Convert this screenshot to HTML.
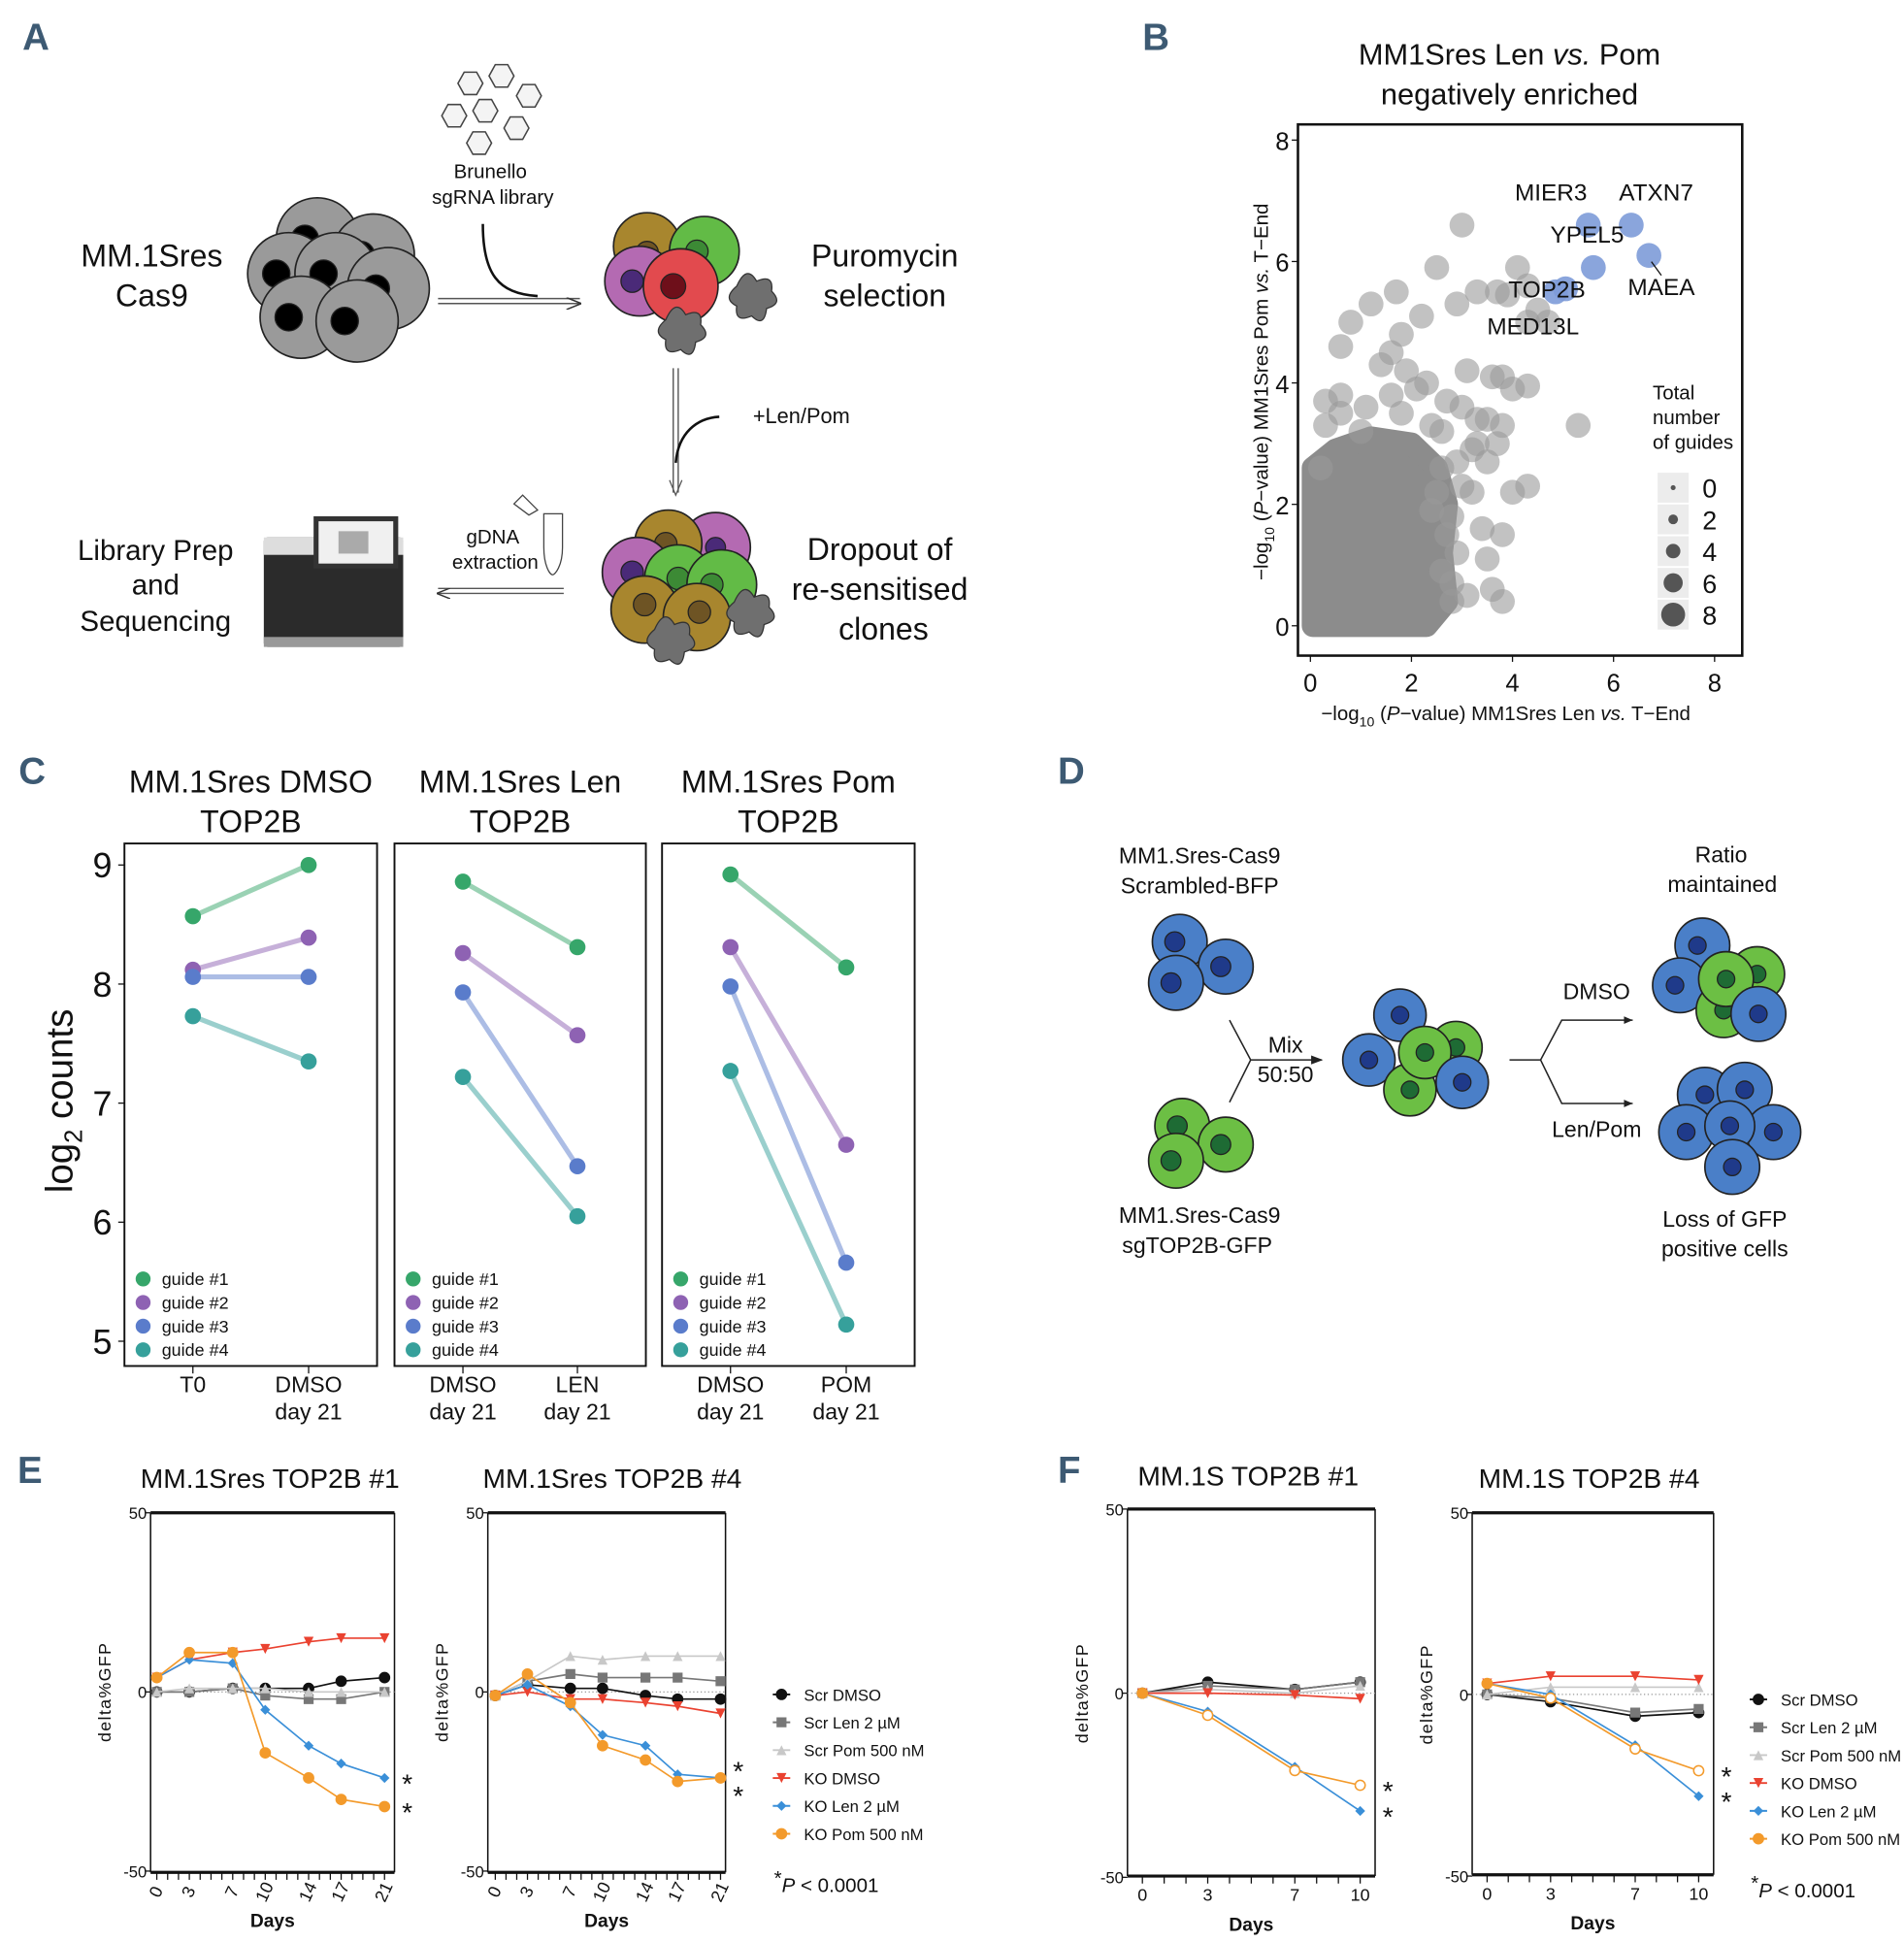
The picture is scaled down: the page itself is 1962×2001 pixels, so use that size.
<!DOCTYPE html>
<html><head><meta charset="utf-8"><style>
html,body{margin:0;padding:0;background:#fff}
svg{display:block}
text{font-family:"Liberation Sans Narrow","Liberation Sans",sans-serif;fill:#111}
.lt{font-family:"Liberation Sans Narrow","Liberation Sans",sans-serif;font-weight:bold;fill:#3d5a73;font-size:30px}
.ar{font-family:"Liberation Sans",sans-serif}
</style></head><body>
<svg id="fig" width="1962" height="2001" viewBox="0 0 1530 1561" preserveAspectRatio="none" xmlns="http://www.w3.org/2000/svg">
<defs>
<marker id="ah" markerWidth="10" markerHeight="8" refX="9" refY="4" orient="auto"><path d="M0,0 L10,4 L0,8" fill="none" stroke="#333" stroke-width="1"/></marker>
<marker id="ahs" markerWidth="8" markerHeight="6" refX="7" refY="3" orient="auto"><path d="M0,0 L8,3 L0,6 Z" fill="#222"/></marker>
</defs>
<g>
<text class="lt" x="18" y="40">A</text>
<g fill="#f4f4f4" stroke="#444" stroke-width="1.2">
<polygon points="373,58 383,58 388,67 383,76 373,76 368,67"/><polygon points="398,52 408,52 413,61 408,70 398,70 393,61"/>
<polygon points="420,68 430,68 435,77 430,86 420,86 415,77"/><polygon points="385,80 395,80 400,89 395,98 385,98 380,89"/>
<polygon points="360,84 370,84 375,93 370,102 360,102 355,93"/><polygon points="410,94 420,94 425,103 420,112 410,112 405,103"/>
<polygon points="380,106 390,106 395,115 390,124 380,124 375,115"/>
</g>
<text class="ar" x="394" y="143" text-anchor="middle" font-size="16">Brunello</text>
<text class="ar" x="396" y="164" text-anchor="middle" font-size="16">sgRNA library</text>
<path d="M388,180 C388,220 400,236 432,238" fill="none" stroke="#111" stroke-width="2"/>
<text class="ar" x="122" y="214" text-anchor="middle" font-size="25">MM.1Sres</text>
<text class="ar" x="122" y="246" text-anchor="middle" font-size="25">Cas9</text>
<g id="grayCells"></g>
<path d="M352,240 L466,240 M352,244 L466,244" stroke="#555" stroke-width="1.2" marker-end="url(#ah)"/>
<g id="colCells1"></g>
<text class="ar" x="711" y="214" text-anchor="middle" font-size="25">Puromycin</text>
<text class="ar" x="711" y="246" text-anchor="middle" font-size="25">selection</text>
<path d="M541,296 L541,396 M545,296 L545,396" stroke="#555" stroke-width="1.1"/>
<path d="M538,386 L543,398 L548,386" fill="none" stroke="#555"/>
<path d="M543,372 C545,348 560,336 578,335" fill="none" stroke="#111" stroke-width="2"/>
<text class="ar" x="605" y="340" font-size="17">+Len/Pom</text>
<g id="colCells2"></g>
<text class="ar" x="707" y="450" text-anchor="middle" font-size="25">Dropout of</text>
<text class="ar" x="707" y="482" text-anchor="middle" font-size="25">re-sensitised</text>
<text class="ar" x="710" y="514" text-anchor="middle" font-size="25">clones</text>
<path d="M453,473 L352,473 M453,477 L352,477" stroke="#555" stroke-width="1.1" marker-end="url(#ah)"/>
<text class="ar" x="396" y="437" text-anchor="middle" font-size="16">gDNA</text>
<text class="ar" x="398" y="457" text-anchor="middle" font-size="16">extraction</text>
<path d="M437,413 L452,413 L452,440 C452,455 446,462 444,462 C442,462 437,455 437,440 Z" fill="#fff" stroke="#444"/>
<path d="M413,405 L420,398 L432,410 L425,414 Z" fill="#fff" stroke="#444"/>
<g>
<rect x="212" y="432" width="112" height="88" fill="#2b2b2b" rx="3"/>
<rect x="212" y="432" width="112" height="14" fill="#ddd"/>
<rect x="252" y="415" width="68" height="42" fill="#333"/>
<rect x="256" y="419" width="60" height="34" fill="#f0f0f0"/>
<rect x="272" y="427" width="24" height="18" fill="#aaa"/>
<rect x="212" y="512" width="112" height="8" fill="#999"/>
</g>
<text class="ar" x="125" y="450" text-anchor="middle" font-size="23">Library Prep</text>
<text class="ar" x="125" y="478" text-anchor="middle" font-size="23">and</text>
<text class="ar" x="125" y="507" text-anchor="middle" font-size="23">Sequencing</text>
</g>
<g>
<text class="lt" x="918" y="40">B</text>
<text class="ar" x="1213" y="52" text-anchor="middle" font-size="24">MM1Sres Len <tspan font-style="italic">vs.</tspan> Pom</text>
<text class="ar" x="1213" y="84" text-anchor="middle" font-size="24">negatively enriched</text>
<g id="scatter"></g>
</g>
<g>
<text class="lt" x="15" y="630">C</text>
<g id="panelC"></g>
</g>
<g>
<text class="lt" x="850" y="630">D</text>
<text class="ar" x="964" y="694" text-anchor="middle" font-size="18">MM1.Sres-Cas9</text>
<text class="ar" x="964" y="718" text-anchor="middle" font-size="18">Scrambled-BFP</text>
<text class="ar" x="964" y="983" text-anchor="middle" font-size="18">MM1.Sres-Cas9</text>
<text class="ar" x="962" y="1007" text-anchor="middle" font-size="18">sgTOP2B-GFP</text>
<g id="dCells"></g>
<path d="M988,820 L1005,852 L988,886 M1005,852 L1062,852" fill="none" stroke="#222" stroke-width="1.2" marker-end="url(#ahs)"/>
<text class="ar" x="1033" y="846" text-anchor="middle" font-size="18">Mix</text>
<text class="ar" x="1033" y="870" text-anchor="middle" font-size="18">50:50</text>
<path d="M1213,852 L1238,852 L1255,820 L1312,820 M1238,852 L1255,887 L1312,887" fill="none" stroke="#222" stroke-width="1.2"/>
<path d="M1305,817 L1312,820 L1305,823 Z M1305,884 L1312,887 L1305,890 Z" fill="#222"/>
<text class="ar" x="1283" y="803" text-anchor="middle" font-size="18">DMSO</text>
<text class="ar" x="1283" y="914" text-anchor="middle" font-size="18">Len/Pom</text>
<text class="ar" x="1383" y="693" text-anchor="middle" font-size="18">Ratio</text>
<text class="ar" x="1384" y="717" text-anchor="middle" font-size="18">maintained</text>
<text class="ar" x="1386" y="986" text-anchor="middle" font-size="18">Loss of GFP</text>
<text class="ar" x="1386" y="1010" text-anchor="middle" font-size="18">positive cells</text>
</g>
<text class="lt" x="14" y="1192">E</text>
<text class="lt" x="850" y="1192">F</text>
<g id="panelEF"></g>
</svg>
<script>
// ===== Panel B data =====
const bGrayX=[3.0,4.1,3.3,2.5,4.3,3.7,3.9,4.5,4.3,4.7,2.9,2.2,0.8,1.7,1.2,1.8,0.6,1.6,1.4,1.9,2.3,3.1,3.6,3.8,4.0,4.3,2.1,0.6,0.3,1.1,2.7,3.0,3.3,3.5,3.8,2.6,3.3,3.7,5.3,4.3,4.0,3.2,3.4,3.5,3.1,3.6,3.8,2.8,0.6,0.3,1.0,1.8,2.9,2.8,2.9,0.2,3.8,2.4,1.6,2.6,3.2,3.5,2.5,2.7,2.6,2.8,2.4,3.0];
const bGrayY=[6.6,5.9,5.5,5.9,5.6,5.5,5.45,5.2,5.0,5.0,5.3,5.1,5.0,5.5,5.3,4.8,4.6,4.5,4.3,4.2,4.0,4.2,4.1,4.1,3.9,3.95,3.9,3.8,3.7,3.6,3.7,3.6,3.4,3.4,3.3,3.2,3.0,3.0,3.3,2.3,2.2,2.2,1.6,1.1,0.5,0.6,0.4,0.4,3.5,3.3,3.2,3.5,2.7,1.8,1.2,2.6,1.5,3.3,3.8,2.6,2.9,2.7,2.2,1.5,0.9,0.7,1.9,2.3];
const bBlueX=[5.5,6.35,5.6,6.7,5.05,4.85];
const bBlueY=[6.6,6.6,5.9,6.1,5.55,5.5];
const bGenes=["MIER3","ATXN7","YPEL5","MAEA","TOP2B","MED13L"];
const bTicks=[0,2,4,6,8];
const bLegend=[0,2,4,6,8];
// ===== Panel C data =====
const cTitles=["MM.1Sres DMSO","MM.1Sres Len","MM.1Sres Pom"];
const cXlab1=[["T0",""],["DMSO","LEN"],["DMSO","POM"]];
const cXlab0=["T0","DMSO","DMSO"];
const cStart=[[8.57,8.12,8.06,7.73],[8.86,8.26,7.93,7.22],[8.92,8.31,7.98,7.27]];
const cEnd=[[9.0,8.39,8.06,7.35],[8.31,7.57,6.47,6.05],[8.14,6.65,5.66,5.14]];
const cTicks=[5,6,7,8,9];
const cGuides=["guide #1","guide #2","guide #3","guide #4"];
// ===== Panels E/F data =====
const eDays=[0,3,7,10,14,17,21];
const fDays=[0,3,7,10];
const seriesNames=["Scr DMSO","Scr Len 2 µM","Scr Pom 500 nM","KO DMSO","KO Len 2 µM","KO Pom 500 nM"];
const e1ScrDmso=[0,0,1,1,1,3,4], e1ScrLen=[0,0,1,-1,-2,-2,0], e1ScrPom=[0,1,1,1,0,0,0], e1KoDmso=[4,9,11,12,14,15,15], e1KoLen=[4,9,8,-5,-15,-20,-24], e1KoPom=[4,11,11,-17,-24,-30,-32];
const e4ScrDmso=[-1,2,1,1,-1,-2,-2], e4ScrLen=[-1,3,5,4,4,4,3], e4ScrPom=[-1,3,10,9,10,10,10], e4KoDmso=[-1,0,-2,-2,-3,-4,-6], e4KoLen=[-1,2,-4,-12,-15,-23,-24], e4KoPom=[-1,5,-3,-15,-19,-25,-24];
const f1ScrDmso=[0,3,1,3], f1ScrLen=[0,2,1,3], f1ScrPom=[0,1,0,2], f1KoDmso=[0,0,-0.5,-1.5], f1KoLen=[0,-5,-20,-32], f1KoPom=[0,-6,-21,-25];
const f4ScrDmso=[0,-2,-6,-5], f4ScrLen=[0,-1,-5,-4], f4ScrPom=[0,2,2,2], f4KoDmso=[3,5,5,4], f4KoLen=[3,0,-14,-28], f4KoPom=[3,-1,-15,-21];
const yTicksEF=[-50,0,50];

const NS="http://www.w3.org/2000/svg";
function mk(tag,attrs,parent,txt){const e=document.createElementNS(NS,tag);for(const k in attrs)e.setAttribute(k,attrs[k]);if(txt!==undefined)e.textContent=txt;parent.appendChild(e);return e;}

function cell(p,cx,cy,r,fill,nf,dx,dy,nr,name){const g=mk('g',{},p);


mk('circle',{cx:cx,cy:cy,r:r,fill:fill,stroke:'#222','stroke-width':1.3},g);
mk('circle',{cx:cx+dx,cy:cy+dy,r:nr,fill:nf,stroke:'#222','stroke-width':1},g);}
function blob(p,cx,cy){const g=mk('path',{d:`M${cx-12},${cy-6} q8,-18 16,-4 q14,-6 12,8 q10,10 -4,14 q-2,16 -12,6 q-14,6 -12,-8 q-12,-6 0,-16z`,fill:'#6f6f6f',stroke:'#333','stroke-width':1},p);

}
const gc=document.getElementById('grayCells');
[[255,192],[300,205],[232,220],[270,220],[312,232],[242,255],[287,258]].forEach(c=>cell(gc,c[0],c[1],33,'#9a9a9a','#000',-10,0,11,'gray-cell'));
const c1=document.getElementById('colCells1');
cell(c1,520,198,27,'#a8862e','#6e5424',0,5,9,'brown-cell');
cell(c1,566,202,28,'#62bb46','#3c8a35',-6,0,9,'green-cell');
cell(c1,514,226,28,'#b46ab2','#4a2a78',-6,0,9,'purple-cell');
cell(c1,547,230,30,'#e24a4e','#6e0f1a',-6,0,10,'red-cell');
blob(c1,604,236);blob(c1,547,263);
const c2=document.getElementById('colCells2');
cell(c2,575,440,28,'#b46ab2','#4a2a78',0,0,8,'purple-cell');
cell(c2,537,437,27,'#a8862e','#6e5424',-2,0,9,'brown-cell');
cell(c2,512,460,28,'#b46ab2','#4a2a78',-4,0,9,'purple-cell');
cell(c2,545,465,27,'#62bb46','#3c8a35',0,0,9,'green-cell');
cell(c2,580,470,28,'#62bb46','#3c8a35',-8,0,9,'green-cell');
cell(c2,518,490,27,'#a8862e','#6e5424',0,-4,9,'brown-cell');
cell(c2,560,496,27,'#a8862e','#6e5424',2,-4,9,'brown-cell');
blob(c2,602,490);blob(c2,538,512);
const dc=document.getElementById('dCells');
const B='#4a7fc8',BN='#1f3a8a',G='#6cbf44',GN='#1e6b34';
cell(dc,948,757,22,B,BN,-4,0,8,'bfp-cell');cell(dc,985,777,22,B,BN,-4,0,8,'bfp-cell');cell(dc,945,790,22,B,BN,-4,0,8,'bfp-cell');
cell(dc,950,905,22,G,GN,-4,0,8,'gfp-cell');cell(dc,985,920,22,G,GN,-4,0,8,'gfp-cell');cell(dc,945,933,22,G,GN,-4,0,8,'gfp-cell');
cell(dc,1170,842,21,G,GN,0,0,7,'gfp-cell');cell(dc,1125,816,21,B,BN,0,0,7,'bfp-cell');cell(dc,1100,852,21,B,BN,0,0,7,'bfp-cell');
cell(dc,1133,876,21,G,GN,0,0,7,'gfp-cell');cell(dc,1145,846,21,G,GN,0,0,7,'gfp-cell');cell(dc,1175,870,21,B,BN,0,0,7,'bfp-cell');
cell(dc,1412,783,22,G,GN,0,0,7,'gfp-cell');cell(dc,1368,760,22,B,BN,-4,0,7,'bfp-cell');cell(dc,1350,792,22,B,BN,-4,0,7,'bfp-cell');
cell(dc,1385,812,22,G,GN,0,0,7,'gfp-cell');cell(dc,1387,787,22,G,GN,0,0,7,'gfp-cell');cell(dc,1413,815,22,B,BN,0,0,7,'bfp-cell');
cell(dc,1370,880,22,B,BN,0,0,7,'bfp-cell');cell(dc,1402,876,22,B,BN,0,0,7,'bfp-cell');cell(dc,1355,910,22,B,BN,0,0,7,'bfp-cell');
cell(dc,1425,910,22,B,BN,0,0,7,'bfp-cell');cell(dc,1390,905,20,B,BN,0,0,7,'bfp-cell');cell(dc,1392,938,22,B,BN,0,0,7,'bfp-cell');

(function(){
const p=document.getElementById('scatter');
const X0=1043,X1=1400,Y0=100,Y1=527;
const sx=v=>1053+v*40.6, sy=v=>503-v*48.8;
const fr=mk('rect',{x:X0,y:Y0,width:X1-X0,height:Y1-Y0,fill:'none',stroke:'#111','stroke-width':2},p);


const cloud=[[0.05,0],[2.3,0],[2.7,0.4],[2.6,1.2],[2.7,2.0],[2.5,2.6],[2.0,3.0],[1.2,3.1],[0.5,2.9],[0.05,2.6]];
const cl=mk('path',{d:'M'+cloud.map(q=>sx(q[0])+','+sy(q[1])).join(' L')+'Z',fill:'#8c8c8c',stroke:'#8c8c8c','stroke-width':18,'stroke-linejoin':'round'},p);


bGrayX.forEach((v,i)=>{const c=mk('circle',{cx:sx(v),cy:sy(bGrayY[i]),r:10,fill:'#9a9a9a','fill-opacity':0.6},p);

});
bBlueX.forEach((v,i)=>{const c=mk('circle',{cx:sx(v),cy:sy(bBlueY[i]),r:10,fill:'#7d9bd8','fill-opacity':0.9},p);

});
const off=[[-30,-20],[20,-20],[-5,-20],[10,32],[-15,7],[-18,34]];
bGenes.forEach((g,i)=>{const t=mk('text',{x:sx(bBlueX[i])+off[i][0],y:sy(bBlueY[i])+off[i][1],'text-anchor':'middle','font-size':19,class:'ar'},p,g);

});
mk('line',{x1:sx(6.7)+2,y1:sy(6.1)+5,x2:sx(6.7)+10,y2:sy(6.1)+16,stroke:'#111'},p);
bTicks.forEach(v=>{
let t=mk('text',{x:sx(v),y:556,'text-anchor':'middle','font-size':20,class:'ar'},p,v);
mk('line',{x1:sx(v),y1:527,x2:sx(v),y2:532,stroke:'#111'},p);
t=mk('text',{x:1036,y:sy(v)+8,'text-anchor':'end','font-size':20,class:'ar'},p,v);
mk('line',{x1:1038,y1:sy(v),x2:1043,y2:sy(v),stroke:'#111'},p);});
let t=mk('text',{x:1210,y:579,'text-anchor':'middle','font-size':16,class:'ar'},p);t.innerHTML='−log<tspan font-size="11" dy="5">10</tspan><tspan dy="-5"> (</tspan><tspan font-style="italic">P</tspan>−value) MM1Sres Len <tspan font-style="italic">vs.</tspan> T−End';

t=mk('text',{transform:'translate(1019,315) rotate(-90)','text-anchor':'middle','font-size':16,class:'ar'},p);t.innerHTML='−log<tspan font-size="11" dy="5">10</tspan><tspan dy="-5"> (</tspan><tspan font-style="italic">P</tspan>−value) MM1Sres Pom <tspan font-style="italic">vs.</tspan> T−End';

['Total','number','of guides'].forEach((s,i)=>{const q=mk('text',{x:1328,y:321+i*20,'font-size':16,class:'ar'},p,s);});
bLegend.forEach((v,i)=>{const y=392+i*25.5;
mk('rect',{x:1332,y:y-12,width:25,height:24,fill:'#ececec'},p);
const c=mk('circle',{cx:1344.5,cy:y,r:2+v*0.95,fill:'#555'},p);
const q=mk('text',{x:1368,y:y+8,'font-size':21,class:'ar'},p,v);});
})();

(function(){
const p=document.getElementById('panelC');
const boxes=[[100,303],[317,519],[532,735]];
const cols=['#36a66a','#8e62b3','#5a7ccb','#36a09b'];
const sy=v=>791-(v-8)*95.7;
const ax=[[155,248],[372,464],[587,680]];
boxes.forEach((b,k)=>{
const r=mk('rect',{x:b[0],y:678,width:b[1]-b[0],height:420,fill:'none',stroke:'#111','stroke-width':1.5},p);
let t=mk('text',{x:(b[0]+b[1])/2,y:637,'text-anchor':'middle','font-size':25,class:'ar'},p,cTitles[k]);
t=mk('text',{x:(b[0]+b[1])/2,y:669,'text-anchor':'middle','font-size':25,class:'ar'},p,'TOP2B');
cStart[k].forEach((v,i)=>{
const l=mk('line',{x1:ax[k][0],y1:sy(v),x2:ax[k][1],y2:sy(cEnd[k][i]),stroke:cols[i],'stroke-opacity':0.5,'stroke-width':4},p);
let c=mk('circle',{cx:ax[k][0],cy:sy(v),r:6.5,fill:cols[i]},p);
c=mk('circle',{cx:ax[k][1],cy:sy(cEnd[k][i]),r:6.5,fill:cols[i]},p);});
cGuides.forEach((g,i)=>{const y=1028+i*19;
let c=mk('circle',{cx:b[0]+15,cy:y,r:6,fill:cols[i]},p);
t=mk('text',{x:b[0]+30,y:y+5,'font-size':14,class:'ar'},p,g);});
[0,1].forEach(j=>{mk('line',{x1:ax[k][j],y1:1098,x2:ax[k][j],y2:1104,stroke:'#111'},p);
const l0=j==0?cXlab0[k]:(k==0?'DMSO':cXlab1[k][1]);
let q=mk('text',{x:ax[k][j],y:1119,'text-anchor':'middle','font-size':18,class:'ar'},p,l0);
if(!(k==0&&j==0)){q=mk('text',{x:ax[k][j],y:1141,'text-anchor':'middle','font-size':18,class:'ar'},p,'day 21');}});
});
cTicks.forEach(v=>{const t=mk('text',{x:90,y:sy(v)+10,'text-anchor':'end','font-size':28,class:'ar'},p,v);
mk('line',{x1:95,y1:sy(v),x2:100,y2:sy(v),stroke:'#111'},p);});
const t=mk('text',{transform:'translate(58,885) rotate(-90)','text-anchor':'middle','font-size':30,class:'ar'},p);t.innerHTML='log<tspan font-size="20" dy="8">2</tspan><tspan dy="-8"> counts</tspan>';

})();

const colEF=['#111','#777','#c8c8c8','#ea4230','#3a8fd8','#f39a2b'];
const shapes=['circle','square','tri','tridown','diamond','circle'];
function marker(p,x,y,s,c,open){let e;const r=4;
if(s=='circle')e=mk('circle',{cx:x,cy:y,r:r,fill:open?'#fff':c,stroke:c,'stroke-width':1.2},p);
else if(s=='square')e=mk('rect',{x:x-r,y:y-r,width:2*r,height:2*r,fill:c},p);
else if(s=='tri')e=mk('path',{d:`M${x},${y-r} L${x+r},${y+r} L${x-r},${y+r}Z`,fill:c},p);
else if(s=='tridown')e=mk('path',{d:`M${x},${y+r} L${x+r},${y-r} L${x-r},${y-r}Z`,fill:c},p);
else e=mk('path',{d:`M${x},${y-r} L${x+r},${y} L${x},${y+r} L${x-r},${y}Z`,fill:c},p);
return e;}
function chart(cfg){
const p=mk('g',{},document.getElementById('panelEF'));


const days=cfg.days, d0=days[0], d1=days[days.length-1];
const sx=d=>cfg.px0+(d-d0)/(d1-d0)*(cfg.px1-cfg.px0);
const sy=v=>cfg.y0-v*(cfg.y0-cfg.yt)/50;
let t=mk('text',{x:cfg.tx,y:cfg.ty,'text-anchor':'middle','font-size':22,class:'ar'},p,cfg.title);
mk('line',{x1:cfg.L,y1:cfg.yt,x2:cfg.R,y2:cfg.yt,stroke:'#111','stroke-width':2.5},p);
mk('line',{x1:cfg.R,y1:cfg.yt,x2:cfg.R,y2:cfg.yb,stroke:'#111','stroke-width':1.2},p);
mk('line',{x1:cfg.L,y1:cfg.yt,x2:cfg.L,y2:cfg.yb,stroke:'#111','stroke-width':1.2},p);
mk('line',{x1:cfg.L,y1:cfg.yb,x2:cfg.R,y2:cfg.yb,stroke:'#111','stroke-width':2.5},p);
mk('line',{x1:cfg.L,y1:sy(0),x2:cfg.R,y2:sy(0),stroke:'#999','stroke-dasharray':'1,2'},p);
yTicksEF.forEach(v=>{const q=mk('text',{x:cfg.L-3,y:sy(v)+5,'text-anchor':'end','font-size':13,class:'ar'},p,v);
mk('line',{x1:cfg.L-4,y1:sy(v),x2:cfg.L,y2:sy(v),stroke:'#111'},p);});
for(let d=d0;d<=d1;d++)mk('line',{x1:sx(d),y1:cfg.yb,x2:sx(d),y2:cfg.yb+6,stroke:'#111'},p);
days.forEach(d=>{const q=mk('text',{x:sx(d),y:cfg.yb+20,'text-anchor':'middle','font-size':14,class:'ar',transform:cfg.rot?`rotate(-65 ${sx(d)} ${cfg.yb+16})`:''},p,d);});
t=mk('text',{x:(cfg.L+cfg.R)/2,y:cfg.yb+44,'text-anchor':'middle','font-size':15,'font-weight':'bold',class:'ar'},p,'Days');
t=mk('text',{transform:`translate(${cfg.L-32},${sy(0)}) rotate(-90)`,'text-anchor':'middle','font-size':14,class:'ar','letter-spacing':'1'},p,'delta%GFP');
cfg.series.forEach((s,i)=>{
const pl=mk('polyline',{points:s.map((v,j)=>sx(days[j])+','+sy(v)).join(' '),fill:'none',stroke:colEF[i],'stroke-width':1.3},p);


s.forEach((v,j)=>{const m=marker(p,sx(days[j]),sy(v),shapes[i],colEF[i],cfg.openPom&&i==5&&j>0);

});});
const sl=cfg.series[4][cfg.series[4].length-1], sp=cfg.series[5][cfg.series[5].length-1];
let ya=sy(sl)+12, yb=sy(sp)+12;
if(Math.abs(ya-yb)<20){const m=(ya+yb)/2; const hi=Math.min(ya,yb)===ya; ya=m+(sl>=sp?-10:10); yb=m+(sl>=sp?10:-10);}
[ya,yb].forEach(y=>{const q=mk('text',{x:cfg.R+6,y:y,'font-size':22,class:'ar'},p,'*');});
}
chart({name:'chart-e-top2b-1',title:'MM.1Sres TOP2B #1',tx:217,ty:1196,days:eDays,px0:126,px1:309,L:121,R:317,yt:1216,yb:1505,y0:1360,rot:true,series:[e1ScrDmso,e1ScrLen,e1ScrPom,e1KoDmso,e1KoLen,e1KoPom]});
chart({name:'chart-e-top2b-4',title:'MM.1Sres TOP2B #4',tx:492,ty:1196,days:eDays,px0:398,px1:579,L:392,R:583,yt:1216,yb:1505,y0:1360,rot:true,series:[e4ScrDmso,e4ScrLen,e4ScrPom,e4KoDmso,e4KoLen,e4KoPom]});
chart({name:'chart-f-top2b-1',title:'MM.1S TOP2B #1',tx:1003,ty:1194,days:fDays,px0:918,px1:1093,L:906,R:1105,yt:1213,yb:1508,y0:1361,openPom:true,series:[f1ScrDmso,f1ScrLen,f1ScrPom,f1KoDmso,f1KoLen,f1KoPom]});
chart({name:'chart-f-top2b-4',title:'MM.1S TOP2B #4',tx:1277,ty:1196,days:fDays,px0:1195,px1:1365,L:1183,R:1377,yt:1216,yb:1507,y0:1362,openPom:true,series:[f4ScrDmso,f4ScrLen,f4ScrPom,f4KoDmso,f4KoLen,f4KoPom]});
function legend(x,y0,dy,name){const p=mk('g',{},document.getElementById('panelEF'));


seriesNames.forEach((s,i)=>{const y=y0+i*dy;
mk('line',{x1:x-7,y1:y,x2:x+7,y2:y,stroke:colEF[i],'stroke-width':1.5},p);
const m=marker(p,x,y,shapes[i],colEF[i],false);
const t=mk('text',{x:x+18,y:y+5,'font-size':13,class:'ar'},p,s);});}
legend(628,1362,22.4,'legend-e');
legend(1413,1366,22.4,'legend-f');
[[622,1521,'p-value-note-e'],[1407,1525,'p-value-note-f']].forEach(a=>{const t=mk('text',{x:a[0],y:a[1],'font-size':16,class:'ar'},document.getElementById('panelEF'));
t.innerHTML='<tspan dy="-6">*</tspan><tspan dy="6" font-style="italic">P</tspan> &lt; 0.0001';

});
</script>
</body></html>
